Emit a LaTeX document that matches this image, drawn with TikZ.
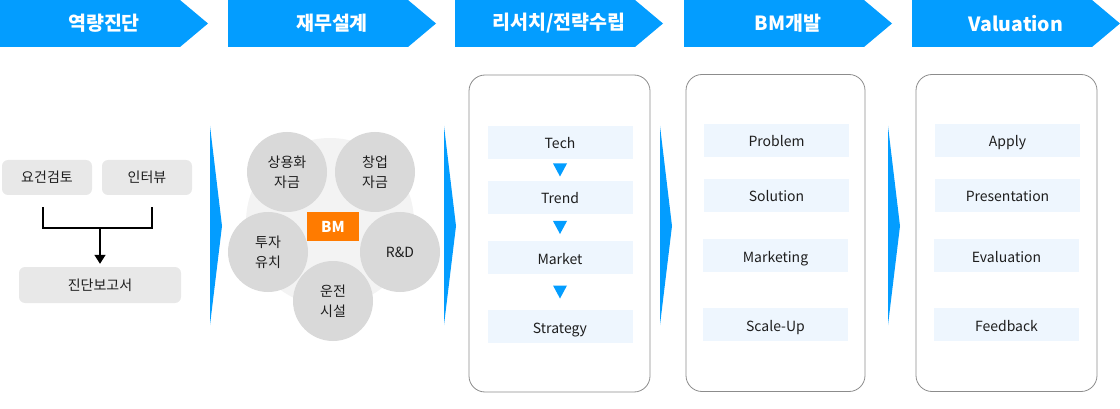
\documentclass[tikz,border=0pt]{standalone}
\usepackage{fontspec}
\setmainfont{Noto Sans CJK KR}
\usepackage{tikz}
\usetikzlibrary{arrows.meta,positioning,calc}

\definecolor{hdrblue}{RGB}{3,157,255}
\definecolor{pillgray}{RGB}{232,232,232}
\definecolor{circgray}{RGB}{217,217,217}
\definecolor{backgray}{RGB}{243,243,243}
\definecolor{stepfill}{RGB}{238,246,254}
\definecolor{framegray}{RGB}{140,140,140}
\definecolor{bmorange}{RGB}{255,123,0}
\definecolor{inktext}{RGB}{30,30,30}

\tikzset{
  hdrtext/.style={text=white,font=\fontsize{19.5}{22}\selectfont\bfseries},
  pill/.style={fill=pillgray,rounded corners=6pt,minimum height=35pt,text=inktext,font=\fontsize{14}{17}\selectfont},
  bubble/.style={circle,fill=circgray,minimum size=80pt,inner sep=0pt,align=center,text=inktext,font=\fontsize{14}{20}\selectfont},
  frame/.style={draw=framegray,line width=0.8pt,rounded corners=16pt,minimum height=317pt},
  stepbox/.style={fill=stepfill,minimum width=145pt,minimum height=33pt,text height=13pt,text depth=0pt,text=inktext,font=\fontsize{14}{17}\selectfont},
  link/.style={line width=1.6pt,black},
}

\begin{document}
\begin{tikzpicture}[x=1pt,y=-1pt]
  \useasboundingbox (0,0) rectangle (1120,409);
  % top banners
  \foreach \x/\t [count=\i] in {0/역량진단,228/재무설계,455/리서치{/}전략수립,684/BM개발,912/Valuation}{
    \fill[hdrblue] (\x,0) -- ++(180,0) -- ++(28,23.5) -- ++(-28,23.5) -- ++(-180,0) -- cycle;
    \node[hdrtext] (hdr\i) at (\x+104,23.5) {\t};
  }
  % separators
  \foreach \x in {210,444,660,888}{
    \fill[hdrblue] (\x,126) -- (\x+12,226) -- (\x,325) -- cycle;
  }

  % 1: diagnosis
  \node[pill,minimum width=90pt] (req) at (47,177.5) {요건검토};
  \node[pill,minimum width=90pt] (itv) at (147,177.5) {인터뷰};
  \node[pill,minimum width=162pt,minimum height=36pt] (rep) at (100,285) {진단보고서};
  \draw[link] ([xshift=-4pt,yshift=-12pt]req.south) -- ([xshift=-4pt,yshift=-33pt]req.south) -| ([xshift=5pt,yshift=-12pt]itv.south);
  \draw[link,-{Triangle[length=9pt,width=11pt]}] ($(rep.north |- req.south)+(0,33)$) -- ([yshift=3pt]rep.north);

  % 2: finance
  \fill[backgray] (330,222) circle (84);
  \node[bubble] (fund1) at (287,172) {상용화\\자금};
  \node[bubble] (fund2) at (375,172) {창업\\자금};
  \node[bubble] (invest) at (268,252) {투자\\유치};
  \node[bubble] (rnd) at (400,252) {R\&D};
  \node[bubble] (plant) at (333,301) {운전\\시설};
  \node[fill=bmorange,minimum width=52pt,minimum height=29pt,inner sep=0pt,text=white,font=\fontsize{15}{17}\selectfont\bfseries] (bm) at (333,226.5) {BM};

  % 3: research / strategy
  \node[frame,minimum width=181pt] (box3) at (559.5,233.5) {};
  \node[stepbox] (tech) at (560,142.5) {Tech};
  \node[stepbox] (trend) at (560,197.5) {Trend};
  \node[stepbox] (market) at (560,257.5) {Market};
  \node[stepbox] (strat) at (560,326.5) {Strategy};
  \foreach \a/\b in {tech/trend,trend/market,market/strat}{
    \fill[hdrblue] ($(\a.south)!0.5!(\b.north)$) +(-7,-6.5) -- +(7,-6.5) -- +(0,6.5) -- cycle;
  }

  % 4: BM
  \node[frame,minimum width=179pt] (box4) at (775.5,233) {};
  \node[stepbox] (prob) at (776.5,140.5) {Problem};
  \node[stepbox] (sol) at (776.5,195.5) {Solution};
  \node[stepbox] (mkt) at (775.5,255.5) {Marketing};
  \node[stepbox] (scale) at (775.5,324.5) {Scale-Up};

  % 5: valuation
  \node[frame,minimum width=181pt] (box5) at (1006.5,233) {};
  \node[stepbox] (apply) at (1007.5,140.5) {Apply};
  \node[stepbox] (pres) at (1007.5,195.5) {Presentation};
  \node[stepbox] (eval) at (1006.5,255.5) {Evaluation};
  \node[stepbox] (feed) at (1006.5,324.5) {Feedback};
\end{tikzpicture}
\end{document}
